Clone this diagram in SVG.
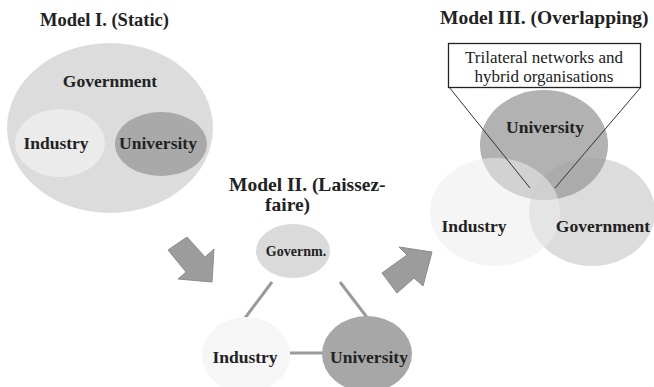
<svg xmlns="http://www.w3.org/2000/svg" width="654" height="387" viewBox="0 0 654 387">
<style>
text{font-family:'Liberation Serif',serif;fill:#222;}
.t{font-weight:700;}
.title{font-size:19.5px;}
.lbl{font-size:17.5px;text-anchor:middle;}
.box{font-size:17px;text-anchor:middle;font-weight:400;}
.link{stroke:#9a9a9a;stroke-width:3;fill:none;}
.arrow{fill:#9c9c9c;stroke:#8c8c8c;stroke-width:1;}
</style>
<rect width="654" height="387" fill="#fff"/>

<!-- Model I -->
<g id="model1">
  <text class="t title" x="40" y="26" style="font-size:18.5px">Model I. (Static)</text>
  <g id="m1-government">
    <ellipse cx="110" cy="128" rx="103" ry="85" fill="#dcdcdc"/>
    <text class="t lbl" x="110" y="87">Government</text>
  </g>
  <g id="m1-industry">
    <ellipse cx="60" cy="143" rx="45" ry="34" fill="#ebebeb"/>
    <text class="t lbl" x="56" y="149">Industry</text>
  </g>
  <g id="m1-university">
    <ellipse cx="161" cy="144" rx="46" ry="32" fill="#a9a9a9"/>
    <text class="t lbl" x="158" y="149">University</text>
  </g>
</g>

<!-- Big arrows -->
<g id="arrows">
  <polygon class="arrow" points="168,250 187,237 205,257 214,249 212,282 178,279 186,272"/>
  <polygon class="arrow" points="382,273 407,255 399,247 432,252 423,286 414,278 397,293"/>
</g>

<!-- Model II -->
<g id="model2">
  <text class="t title" x="229" y="191">Model II. (Laissez-</text>
  <text class="t title" x="265" y="211">faire)</text>
  <g id="m2-links">
    <line class="link" x1="272" y1="282" x2="245" y2="318"/>
    <line class="link" x1="340" y1="282" x2="369" y2="320"/>
    <line class="link" x1="290" y1="353" x2="325" y2="353"/>
  </g>
  <g id="m2-government">
    <ellipse cx="293" cy="251" rx="37" ry="27" fill="#dadada"/>
    <text class="t" x="296" y="256" style="font-size:14px;text-anchor:middle">Governm.</text>
  </g>
  <g id="m2-industry">
    <ellipse cx="246" cy="355" rx="44" ry="38" fill="#f6f6f6"/>
    <text class="t lbl" x="245" y="363">Industry</text>
  </g>
  <g id="m2-university">
    <ellipse cx="367" cy="354" rx="45" ry="38" fill="#a7a7a7"/>
    <text class="t lbl" x="369" y="363">University</text>
  </g>
</g>

<!-- Model III -->
<g id="model3">
  <text class="t title" x="440" y="24">Model III. (Overlapping)</text>
  <g id="m3-government">
    <ellipse cx="592" cy="212" rx="63" ry="54" fill="#dcdcdc"/>
  </g>
  <g id="m3-university">
    <ellipse cx="544" cy="145" rx="64" ry="55" fill="#9f9f9f" fill-opacity="0.8"/>
  </g>
  <g id="m3-industry">
    <ellipse cx="495" cy="212" rx="65" ry="54" fill="#ececec" fill-opacity="0.55"/>
  </g>
  <text class="t lbl" x="545" y="133">University</text>
  <text class="t lbl" x="474" y="232">Industry</text>
  <text class="t lbl" x="603" y="232">Government</text>
  <g id="m3-callout">
    <line x1="449" y1="87" x2="530" y2="188" stroke="#333" stroke-width="1"/>
    <line x1="641" y1="87" x2="555" y2="188" stroke="#333" stroke-width="1"/>
    <rect x="448.5" y="43.5" width="192" height="44" fill="#fff" stroke="#222" stroke-width="1.3"/>
    <text class="box" x="544" y="63">Trilateral networks and</text>
    <text class="box" x="544" y="82">hybrid organisations</text>
  </g>
</g>
</svg>
